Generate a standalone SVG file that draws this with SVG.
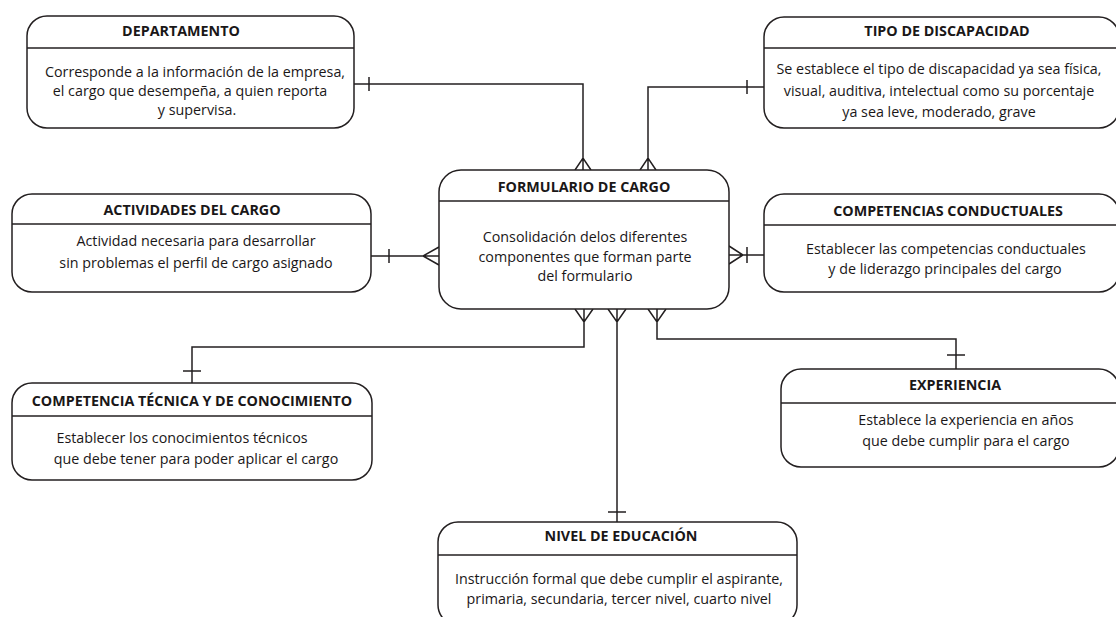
<svg xmlns="http://www.w3.org/2000/svg" width="1116" height="617" viewBox="0 0 1116 617">
<style>
.box{fill:#fff;stroke:#231f20;stroke-width:1.5}
.hd{stroke:#231f20;stroke-width:1.5}
.ln{fill:none;stroke:#231f20;stroke-width:1.5}
.t{font-family:"Open Sans","Liberation Sans",sans-serif;font-weight:bold;font-size:14.3px;fill:#1a1718;text-anchor:middle}
.b{font-family:"Open Sans","Liberation Sans",sans-serif;font-size:14.3px;fill:#1a1718;text-anchor:middle}
</style>
<rect width="1116" height="617" fill="#fff"/>
<g id="connectors">
  <!-- DEPARTAMENTO -->
  <path class="ln" d="M354,84 H583 V170 M369,77 V91 M575,170 L583,158 L591,170"/>
  <!-- TIPO -->
  <path class="ln" d="M764,87 H648 V170 M747,80 V94 M640,170 L648,158 L656,170"/>
  <!-- ACTIVIDADES -->
  <path class="ln" d="M371,256 H439 M389,249 V263 M439,247 L423,256 L439,265"/>
  <!-- COMPETENCIAS -->
  <path class="ln" d="M729,255 H764 M747,247 V263 M729,246 L743,255 L729,264"/>
  <!-- COMP TECNICA -->
  <path class="ln" d="M584,309 V347 H192 V383 M183,371 H201 M575,309 L584,322 L593,309"/>
  <!-- NIVEL -->
  <path class="ln" d="M617,309 V522 M608,512 H626 M608,309 L617,322 L626,309"/>
  <!-- EXPERIENCIA -->
  <path class="ln" d="M657,309 V339 H956 V369 M947,355 H965 M648,309 L657,322 L666,309"/>
</g>
<g id="departamento">
  <rect class="box" x="27" y="16" width="327" height="112" rx="20"/>
  <line class="hd" x1="27" y1="48" x2="354" y2="48"/>
  <text class="t" x="181" y="36">DEPARTAMENTO</text>
  <text class="b" x="195" y="77">Corresponde a la información de la empresa,</text>
  <text class="b" x="190" y="96">el cargo que desempeña, a quien reporta</text>
  <text class="b" x="197" y="115">y supervisa.</text>
</g>
<g id="tipo">
  <rect class="box" x="764" y="17" width="355" height="111" rx="20"/>
  <line class="hd" x1="764" y1="48" x2="1119" y2="48"/>
  <text class="t" x="947" y="36">TIPO DE DISCAPACIDAD</text>
  <text class="b" x="939" y="74">Se establece el tipo de discapacidad ya sea física,</text>
  <text class="b" x="939" y="96">visual, auditiva, intelectual como su porcentaje</text>
  <text class="b" x="939" y="117">ya sea leve, moderado, grave</text>
</g>
<g id="actividades">
  <rect class="box" x="12" y="194" width="359" height="98" rx="20"/>
  <line class="hd" x1="12" y1="224" x2="371" y2="224"/>
  <text class="t" x="192" y="215">ACTIVIDADES DEL CARGO</text>
  <text class="b" x="196" y="246">Actividad necesaria para desarrollar</text>
  <text class="b" x="196" y="268">sin problemas el perfil de cargo asignado</text>
</g>
<g id="formulario">
  <rect class="box" x="439" y="170" width="290" height="139" rx="22"/>
  <line class="hd" x1="439" y1="201" x2="729" y2="201"/>
  <text class="t" x="584" y="192">FORMULARIO DE CARGO</text>
  <text class="b" x="585" y="242">Consolidación delos diferentes</text>
  <text class="b" x="585" y="262">componentes que forman parte</text>
  <text class="b" x="585" y="281">del formulario</text>
</g>
<g id="competencias">
  <rect class="box" x="764" y="194" width="355" height="98" rx="20"/>
  <line class="hd" x1="764" y1="225" x2="1119" y2="225"/>
  <text class="t" x="948" y="216">COMPETENCIAS CONDUCTUALES</text>
  <text class="b" x="946" y="254">Establecer las competencias conductuales</text>
  <text class="b" x="945" y="274">y de liderazgo principales del cargo</text>
</g>
<g id="tecnica">
  <rect class="box" x="12" y="383" width="360" height="97" rx="20"/>
  <line class="hd" x1="12" y1="416" x2="372" y2="416"/>
  <text class="t" x="192" y="406">COMPETENCIA TÉCNICA Y DE CONOCIMIENTO</text>
  <text class="b" x="182" y="443">Establecer los conocimientos técnicos</text>
  <text class="b" x="196" y="464">que debe tener para poder aplicar el cargo</text>
</g>
<g id="experiencia">
  <rect class="box" x="781" y="369" width="338" height="98" rx="20"/>
  <line class="hd" x1="781" y1="403" x2="1119" y2="403"/>
  <text class="t" x="955" y="390">EXPERIENCIA</text>
  <text class="b" x="966" y="425">Establece la experiencia en años</text>
  <text class="b" x="966" y="446">que debe cumplir para el cargo</text>
</g>
<g id="nivel">
  <rect class="box" x="438" y="522" width="359" height="103" rx="20"/>
  <line class="hd" x1="438" y1="555" x2="797" y2="555"/>
  <text class="t" x="621" y="541">NIVEL DE EDUCACIÓN</text>
  <text class="b" x="619" y="584">Instrucción formal que debe cumplir el aspirante,</text>
  <text class="b" x="619" y="604">primaria, secundaria, tercer nivel, cuarto nivel</text>
</g>
</svg>
